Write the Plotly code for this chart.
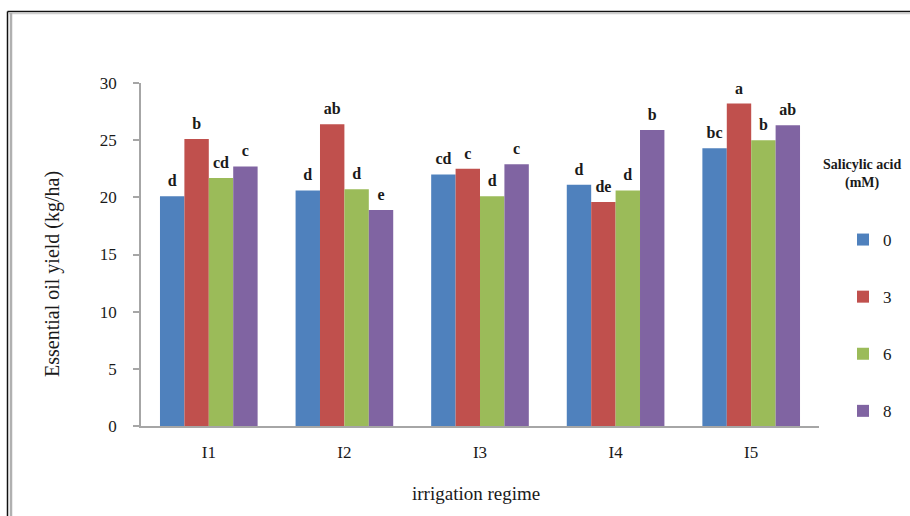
import plotly.graph_objects as go

# Irrigation regimes and salicylic acid doses
regimes = ["I1", "I2", "I3", "I4", "I5"]
doses = ["0", "3", "6", "8"]

# Essential oil yield (kg/ha) per dose, one value per regime
yield_0 = [20.1, 20.6, 22.0, 21.1, 24.3]
yield_3 = [25.1, 26.4, 22.5, 19.6, 28.2]
yield_6 = [21.7, 20.7, 20.1, 20.6, 25.0]
yield_8 = [22.7, 18.9, 22.9, 25.9, 26.3]

# Mean-separation letters shown above each bar
letters_0 = ["d", "d", "cd", "d", "bc"]
letters_3 = ["b", "ab", "c", "de", "a"]
letters_6 = ["cd", "d", "d", "d", "b"]
letters_8 = ["c", "e", "c", "b", "ab"]

series = [yield_0, yield_3, yield_6, yield_8]
letters = [letters_0, letters_3, letters_6, letters_8]
colors = ["#4F81BD", "#C0504D", "#9BBB59", "#8064A2"]

SERIF = "Liberation Serif"
INK = "#1a1a1a"
AXIS = "#A6A6A6"

# tall blank padding on both sides lifts the letters a little off the bar tops
PAD = "<span style='font-size:34px'>&nbsp;</span>"

fig = go.Figure()
for name, vals, labs, col in zip(doses, series, letters, colors):
    fig.add_trace(go.Bar(
        x=regimes, y=vals, name=name, legendgroup=name,
        marker=dict(color=col, line=dict(width=0)),
        text=labs, texttemplate=PAD + "%{text}" + PAD,
        textposition="outside", cliponaxis=False, constraintext="none",
        textfont=dict(family=SERIF, size=16, color=INK, weight="bold"),
        hoverinfo="x+y+name",
    ))

# pixel helpers for decorations placed in paper coordinates
L, R, T, B = 141, 819, 83, 426
def px(x):
    return (x - L) / (R - L)
def py(y):
    return (B - y) / (B - T)

fig.update_layout(
    width=910, height=516,
    margin=dict(l=L, r=910 - R, t=T, b=516 - B),
    paper_bgcolor="white", plot_bgcolor="white",
    barmode="group", bargap=0.28, bargroupgap=0,
    font=dict(family=SERIF, color=INK),
    showlegend=True,
    legend=dict(
        x=px(843), y=py(222), xanchor="left", yanchor="top",
        traceorder="grouped", tracegroupgap=32,
        font=dict(family=SERIF, size=17, color=INK),
        bgcolor="rgba(0,0,0,0)", borderwidth=0,
    ),
    xaxis=dict(
        showline=True, linecolor=AXIS, linewidth=1.5,
        ticks="", showgrid=False, zeroline=False,
        tickfont=dict(family=SERIF, size=17, color=INK),
        ticklabelstandoff=10,
    ),
    yaxis=dict(
        range=[0, 30], dtick=5, tick0=0,
        showline=True, linecolor=AXIS, linewidth=1.5,
        ticks="outside", ticklen=6, tickcolor=AXIS, tickwidth=1.5,
        showgrid=False, zeroline=False,
        tickfont=dict(family=SERIF, size=17, color=INK),
        ticklabelstandoff=13,
    ),
    annotations=[
        dict(text="Essential oil yield (kg/ha)", textangle=-90,
             xref="paper", yref="paper", x=px(52), y=py(274),
             xanchor="center", yanchor="middle", showarrow=False,
             font=dict(family=SERIF, size=20, color=INK)),
        dict(text="irrigation regime",
             xref="paper", yref="paper", x=px(476), y=py(493),
             xanchor="center", yanchor="middle", showarrow=False,
             font=dict(family=SERIF, size=19, color=INK)),
        dict(text="Salicylic acid<br>(mM)",
             xref="paper", yref="paper", x=px(862), y=py(174),
             xanchor="center", yanchor="middle", showarrow=False,
             font=dict(family=SERIF, size=14, color=INK, weight="bold")),
    ],
    shapes=[
        # outer frame: dark top/left rules with a lighter inner line
        dict(type="line", xref="paper", yref="paper",
             x0=px(7.5), x1=px(912), y0=py(11.5), y1=py(11.5),
             line=dict(color="#111111", width=1.5)),
        dict(type="line", xref="paper", yref="paper",
             x0=px(9), x1=px(912), y0=py(13.5), y1=py(13.5),
             line=dict(color="#CFCFCF", width=1.5)),
        dict(type="line", xref="paper", yref="paper",
             x0=px(7.5), x1=px(7.5), y0=py(11.5), y1=py(520),
             line=dict(color="#111111", width=1.5)),
        dict(type="line", xref="paper", yref="paper",
             x0=px(11), x1=px(11), y0=py(13), y1=py(520),
             line=dict(color="#B0B0B0", width=2.5)),
    ],
)

fig.write_html("out.html")
